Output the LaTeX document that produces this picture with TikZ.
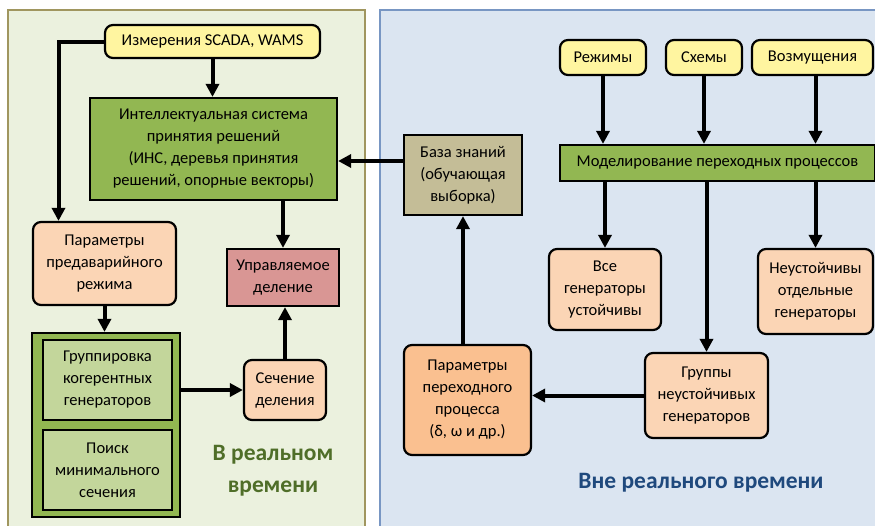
\documentclass[tikz,border=0pt]{standalone}
\usepackage{fontspec}
\setmainfont{Carlito}
\usetikzlibrary{arrows.meta}
\definecolor{ylw}{RGB}{255,245,160}
\definecolor{grn}{RGB}{146,183,82}
\definecolor{pch}{RGB}{251,213,181}
\definecolor{org}{RGB}{250,192,144}
\definecolor{red}{RGB}{217,150,148}
\definecolor{bz}{RGB}{196,189,151}
\definecolor{lgrn}{RGB}{195,214,155}
\definecolor{lpan}{RGB}{235,241,222}
\definecolor{lpanb}{RGB}{160,150,95}
\definecolor{rpan}{RGB}{219,229,241}
\definecolor{rpanb}{RGB}{120,150,195}
\definecolor{gtxt}{RGB}{79,110,40}
\definecolor{btxt}{RGB}{31,73,125}
\tikzset{
  box/.style={draw=black, line width=2.2pt, align=center, inner sep=2pt, font=\fontsize{16.5}{22}\selectfont},
  rbox/.style={box, rounded corners=8pt},
  arr/.style={line width=4pt, -{Triangle[length=13pt,width=13pt]}},
}
\begin{document}
\begin{tikzpicture}[x=1pt,y=-1pt]
\useasboundingbox (0,0) rectangle (875,525);
\begin{scope}
\clip (0,0) rectangle (875,525);
\draw[fill=lpan, draw=lpanb, line width=2pt] (8,10) rectangle (365,535);
\draw[fill=rpan, draw=rpanb, line width=2pt] (380,10) rectangle (885,535);
\end{scope}
% left
\node[rbox, fill=ylw, minimum width=215pt, minimum height=33pt] (scada) at (212.5,41.5) {Измерения SCADA, WAMS};
\node[box, fill=grn, minimum width=247pt, minimum height=102pt] (ispr) at (213.5,149) {Интеллектуальная система\\принятия решений\\(ИНС, деревья принятия\\решений, опорные векторы)};
\node[rbox, fill=pch, minimum width=143pt, minimum height=83pt] (ppar) at (104.5,263.5) {Параметры\\предаварийного\\режима};
\node[box, fill=red, minimum width=112pt, minimum height=57pt] (uprav) at (283,277.5) {Управляемое\\деление};
\node[box, fill=grn, minimum width=148pt, minimum height=184pt] (grp) at (106,425) {};
\node[box, fill=lgrn, minimum width=129pt, minimum height=80pt] (grp1) at (107.5,380) {Группировка\\когерентных\\генераторов};
\node[box, fill=lgrn, minimum width=129pt, minimum height=80pt] (grp2) at (107.5,470) {Поиск\\минимального\\сечения};
\node[rbox, fill=pch, minimum width=82pt, minimum height=60pt] (sech) at (285,390) {Сечение\\деления};
\node[text=gtxt, align=center, font=\fontsize{23.5}{32}\selectfont\bfseries] (rt) at (273,471) {В реальном\\времени};
% right
\node[rbox, fill=ylw, minimum width=86pt, minimum height=35pt] (rej) at (603,57.5) {Режимы};
\node[rbox, fill=ylw, minimum width=76pt, minimum height=35pt] (sch) at (704,57.5) {Схемы};
\node[rbox, fill=ylw, minimum width=121pt, minimum height=35pt] (voz) at (812.5,57.5) {Возмущения};
\node[box, fill=grn, minimum width=315pt, minimum height=36pt] (model) at (717.5,163) {Моделирование переходных процессов};
\node[box, fill=bz, minimum width=118pt, minimum height=80pt] (baza) at (463,175) {База знаний\\(обучающая\\выборка)};
\node[rbox, fill=pch, minimum width=112pt, minimum height=81pt] (vse) at (605,289.5) {Все\\генераторы\\устойчивы};
\node[rbox, fill=pch, minimum width=115pt, minimum height=85pt] (neu) at (815.5,291.5) {Неустойчивы\\отдельные\\генераторы};
\node[rbox, fill=pch, minimum width=123pt, minimum height=85pt] (grup) at (706.5,395.5) {Группы\\неустойчивых\\генераторов};
\node[rbox, fill=org, minimum width=127pt, minimum height=110pt] (ptr) at (467.5,400) {Параметры\\переходного\\процесса\\(δ, ω и др.)};
\node[text=btxt, font=\fontsize{23.5}{28}\selectfont\bfseries] (nrt) at (701,483) {Вне реального времени};
% arrows left
\draw[arr] (scada.west) -| ([xshift=-46pt]ppar.north);
\draw[arr] (scada.south) -- (scada.south |- ispr.north);
\draw[arr] (ispr.south -| uprav.north) -- (uprav.north);
\draw[arr] (ppar.south) -- (ppar.south |- grp.north);
\draw[arr] (grp.east |- sech.west) -- (sech.west);
\draw[arr] (sech.north) -- (sech.north |- uprav.south);
\coordinate (bzw) at ([yshift=14pt]baza.west);
\draw[arr] (bzw) -- (bzw -| ispr.east);
\draw[arr] (ptr.north -| baza.south) -- (baza.south);
% arrows right
\draw[arr] (rej.south) -- (rej.south |- model.north);
\draw[arr] (sch.south) -- (sch.south |- model.north);
\draw[arr] ([xshift=3pt]voz.south) -- ([xshift=3pt]voz.south |- model.north);
\draw[arr] (vse.north |- model.south) -- (vse.north);
\draw[arr] (grup.north |- model.south) -- (grup.north);
\draw[arr] (neu.north |- model.south) -- (neu.north);
\draw[arr] (grup.west) -- (grup.west -| ptr.east);
\end{tikzpicture}
\end{document}
